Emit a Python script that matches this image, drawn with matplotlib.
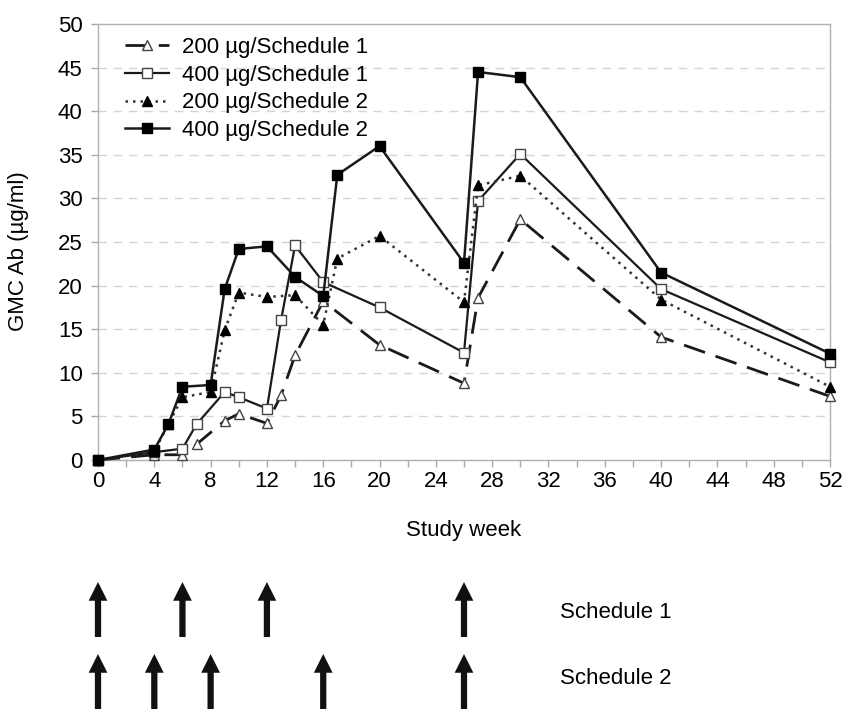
import matplotlib
matplotlib.use("Agg")
import matplotlib.pyplot as plt
from matplotlib.ticker import MultipleLocator

plt.rcParams['font.family'] = ['Liberation Sans', 'DejaVu Sans']

# ---- data ----
weeks_200_s1 = [0, 4, 6, 7, 9, 10, 12, 13, 14, 16, 20, 26, 27, 30, 40, 52]
gmc_200_s1 = [0, 0.6, 0.6, 1.8, 4.5, 5.3, 4.2, 7.4, 12.0, 18.2, 13.2, 8.8, 18.6, 27.6, 14.1, 7.3]

weeks_400_s1 = [0, 4, 6, 7, 9, 10, 12, 13, 14, 16, 20, 26, 27, 30, 40, 52]
gmc_400_s1 = [0, 0.9, 1.3, 4.1, 7.8, 7.2, 5.9, 16.0, 24.6, 20.4, 17.5, 12.3, 29.7, 35.1, 19.6, 11.2]

weeks_200_s2 = [0, 4, 5, 6, 8, 9, 10, 12, 14, 16, 17, 20, 26, 27, 30, 40, 52]
gmc_200_s2 = [0, 1.0, 4.1, 7.2, 7.8, 14.9, 19.2, 18.7, 18.9, 15.5, 23.1, 25.7, 18.1, 31.5, 32.6, 18.4, 8.4]

weeks_400_s2 = [0, 4, 5, 6, 8, 9, 10, 12, 14, 16, 17, 20, 26, 27, 30, 40, 52]
gmc_400_s2 = [0, 1.2, 4.1, 8.4, 8.6, 19.6, 24.2, 24.5, 21.0, 18.8, 32.7, 36.0, 22.6, 44.5, 43.9, 21.5, 12.2]

series_labels = ['200 µg/Schedule 1', '400 µg/Schedule 1',
                 '200 µg/Schedule 2', '400 µg/Schedule 2']

schedule_names = ['Schedule 1', 'Schedule 2']
schedule1_doses = [0, 6, 12, 26]
schedule2_doses = [0, 4, 8, 16, 26]

x_ticks = list(range(0, 53, 4))
y_ticks = list(range(0, 51, 5))

# ---- figure ----
FS = 16
W, H = 845, 709
fig = plt.figure(figsize=(W / 100, H / 100), dpi=100)
ax_l, ax_r, ax_t, ax_b = 98, 830, 24, 460
ax = fig.add_axes([ax_l / W, 1 - ax_b / H, (ax_r - ax_l) / W, (ax_b - ax_t) / H])

lc = '#1a1a1a'
ax.plot(weeks_200_s1, gmc_200_s1, color=lc, lw=2.0, dashes=(8, 4),
        marker='^', mfc='white', mec='#444', ms=6.5, mew=1.0, clip_on=False,
        label=series_labels[0], zorder=3)
ax.plot(weeks_400_s1, gmc_400_s1, color=lc, lw=1.6, ls='-',
        marker='s', mfc='white', mec='#444', ms=6.5, mew=1.0, clip_on=False,
        label=series_labels[1], zorder=3)
ax.plot(weeks_200_s2, gmc_200_s2, color='#333', lw=1.8, dashes=(1.0, 2.0),
        marker='^', mfc='black', mec='black', ms=6.5, mew=1.0, clip_on=False,
        label=series_labels[2], zorder=4)
ax.plot(weeks_400_s2, gmc_400_s2, color=lc, lw=1.8, ls='-',
        marker='s', mfc='black', mec='black', ms=7, mew=1.0, clip_on=False,
        label=series_labels[3], zorder=5)

ax.set_xlim(0, 52)
ax.set_ylim(0, 50)
ax.set_xticks(x_ticks)
ax.xaxis.set_minor_locator(MultipleLocator(2))
ax.set_yticks(y_ticks)
ax.tick_params(axis='both', which='both', direction='out', length=5,
               color='#aaaaaa', width=1, labelsize=FS)
ax.tick_params(axis='x', pad=3)
ax.tick_params(axis='y', pad=6)

for y in y_ticks[1:-1]:
    ax.axhline(y, color='#d4d4d4', lw=1.0, dashes=(6, 5), zorder=1)

for s in ax.spines.values():
    s.set_color('#b0b0b0')
    s.set_linewidth(1.0)

ax.set_xlabel('Study week', fontsize=FS, labelpad=20)
ax.set_ylabel('GMC Ab (µg/ml)', fontsize=FS)
ax.yaxis.set_label_coords(-0.094, 0.478)

leg = ax.legend(loc='upper left', bbox_to_anchor=(125 / W, 1 - 37 / H),
                bbox_transform=fig.transFigure, frameon=False, fontsize=FS,
                handlelength=2.0, handletextpad=0.55, labelspacing=0.3,
                borderaxespad=0, borderpad=0)

# ---- dosing arrows ----
top_px = 570
ax2 = fig.add_axes([ax_l / W, 0, (ax_r - ax_l) / W, (H - top_px) / H])
ax2.set_xlim(0, 52)
ax2.set_ylim(0, 1)
ax2.axis('off')


def ypos(py):
    return (H - py) / (H - top_px)


arrow_style = 'simple,head_length=1.35,head_width=1.35,tail_width=0.45'
rows = [(schedule1_doses, ypos(637), ypos(582), ypos(612)),
        (schedule2_doses, ypos(715), ypos(654), ypos(678))]
for (doses, y0, y1, yt), name in zip(rows, schedule_names):
    for w in doses:
        ax2.annotate('', xy=(w, y1), xytext=(w, y0),
                     arrowprops=dict(arrowstyle=arrow_style, mutation_scale=10,
                                     fc='#111111', ec='none', shrinkA=0, shrinkB=0),
                     annotation_clip=False)
    ax2.text(32.8, yt, name, fontsize=FS, va='center', ha='left')

fig.savefig('out.png', dpi=100)
